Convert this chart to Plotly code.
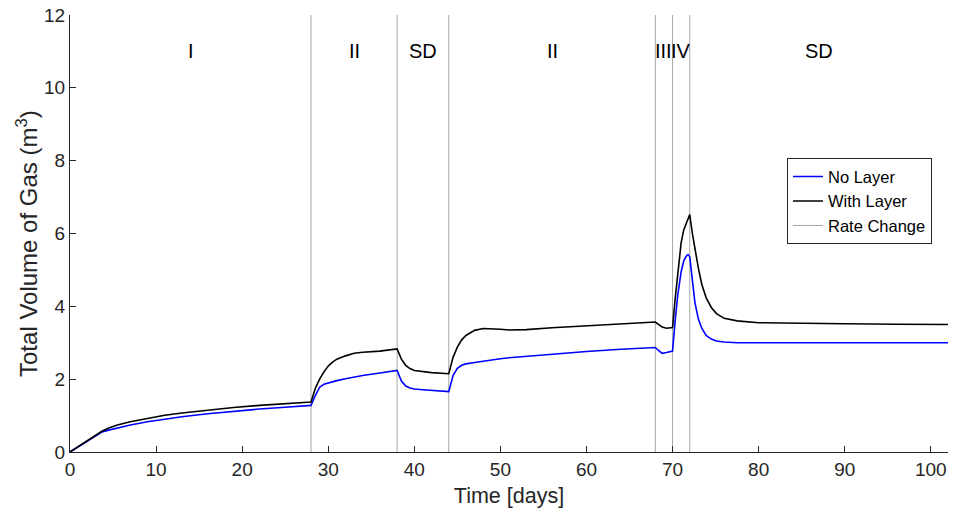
import plotly.graph_objects as go

days = [0, 1, 2, 3, 3.7, 4.5, 5.5, 7, 9, 11, 13, 16, 19, 22, 25, 28,
        28.5, 29, 29.5, 30, 30.5, 31, 32, 33, 34, 36, 38,
        38.5, 39, 39.5, 40, 41, 42, 44,
        44.5, 45, 45.5, 46, 47, 48, 49, 50, 51, 53, 56, 60, 64, 68,
        68.4, 68.8, 69.3, 70,
        70.3, 70.6, 71, 71.3, 71.6, 71.8, 72, 72.3, 72.6, 73, 73.4, 73.9, 74.5, 75.1, 76, 77.5,
        80, 85, 90, 96, 102]

with_layer = [0, 0.15, 0.31, 0.46, 0.57, 0.66, 0.74, 0.83, 0.93, 1.01, 1.07, 1.15, 1.22, 1.28, 1.33, 1.37,
              1.75, 2.0, 2.2, 2.36, 2.47, 2.55, 2.64, 2.71, 2.74, 2.77, 2.83,
              2.55, 2.38, 2.29, 2.24, 2.2, 2.18, 2.15,
              2.6, 2.88, 3.08, 3.2, 3.34, 3.39, 3.39, 3.37, 3.35, 3.36, 3.41, 3.47, 3.52, 3.57,
              3.5, 3.43, 3.40, 3.42,
              4.2, 4.95, 5.75, 6.1, 6.3, 6.42, 6.52, 6.0, 5.55, 5.05, 4.6, 4.24, 3.97, 3.8, 3.67, 3.6,
              3.55, 3.53, 3.52, 3.51, 3.50]

no_layer = [0, 0.15, 0.3, 0.45, 0.55, 0.6, 0.66, 0.74, 0.83, 0.91, 0.97, 1.05, 1.12, 1.18, 1.23, 1.28,
            1.55, 1.78, 1.86, 1.9, 1.93, 1.96, 2.01, 2.06, 2.1, 2.17, 2.24,
            1.95, 1.81, 1.76, 1.73, 1.71, 1.69, 1.66,
            2.1, 2.3, 2.38, 2.42, 2.46, 2.5, 2.53, 2.56, 2.59, 2.63, 2.69, 2.76, 2.82, 2.87,
            2.78, 2.71, 2.73, 2.77,
            3.6, 4.3, 4.95, 5.25, 5.38, 5.42, 5.36, 4.7, 4.1, 3.65, 3.4, 3.2, 3.1, 3.05, 3.02, 3.0,
            3.0, 3.0, 3.0, 3.0, 3.0]

rate_change_days = [28, 38, 44, 68, 70, 72]

period_labels = ["I", "II", "SD", "II", "III", "IV", "SD"]
period_label_days = [14, 33, 41, 56, 69, 71, 87]
period_label_level = 11

x_ticks = list(range(0, 101, 10))
y_ticks = list(range(0, 13, 2))

FONT = "Liberation Sans, Arial, Helvetica, sans-serif"
AX = "#262626"

rc_x, rc_y = [], []
for d in rate_change_days:
    rc_x += [d, d, None]
    rc_y += [0, 12, None]

fig = go.Figure()
fig.add_trace(go.Scatter(x=rc_x, y=rc_y, mode="lines", name="Rate Change",
                         line=dict(color="#a6a6a6", width=1), legendrank=3))
fig.add_trace(go.Scatter(x=days, y=no_layer, mode="lines", name="No Layer",
                         line=dict(color="#0000ff", width=1.6), legendrank=1))
fig.add_trace(go.Scatter(x=days, y=with_layer, mode="lines", name="With Layer",
                         line=dict(color="#000000", width=1.6), legendrank=2))

for lab, d in zip(period_labels, period_label_days):
    fig.add_annotation(x=d, y=period_label_level, text=lab, showarrow=False,
                       font=dict(family=FONT, size=20, color="#000000"))

# y-axis title
fig.add_annotation(xref="paper", yref="paper", x=0, y=0.476, xshift=-43,
                   xanchor="center", yanchor="middle", textangle=-90, showarrow=False,
                   text="Total Volume of Gas (m<sup>3</sup>)",
                   font=dict(family=FONT, size=24, color=AX))

fig.update_layout(
    width=953, height=518,
    margin=dict(l=70, r=5, t=13, b=66),
    plot_bgcolor="white", paper_bgcolor="white",
    font=dict(family=FONT, size=16, color=AX),
    showlegend=True,
    legend=dict(x=0.8166, y=0.672, xanchor="left", yanchor="top",
                bgcolor="white", bordercolor=AX, borderwidth=1,
                font=dict(family=FONT, size=16.5, color="#000000"),
                tracegroupgap=0, itemwidth=30),
)
fig.update_xaxes(range=[0, 102], tickvals=x_ticks, ticks="inside", ticklen=6,
                 tickcolor=AX, showline=True, linecolor=AX, linewidth=1,
                 showgrid=False, zeroline=False, mirror=False,
                 tickfont=dict(family=FONT, size=19, color=AX),
                 title=dict(text="Time [days]", font=dict(family=FONT, size=21.5, color=AX), standoff=9))
fig.update_yaxes(range=[0, 12], tickvals=y_ticks, ticks="inside", ticklen=6,
                 tickcolor=AX, showline=True, linecolor=AX, linewidth=1,
                 showgrid=False, zeroline=False, mirror=False,
                 tickfont=dict(family=FONT, size=19, color=AX))

fig.write_html("out.html")
